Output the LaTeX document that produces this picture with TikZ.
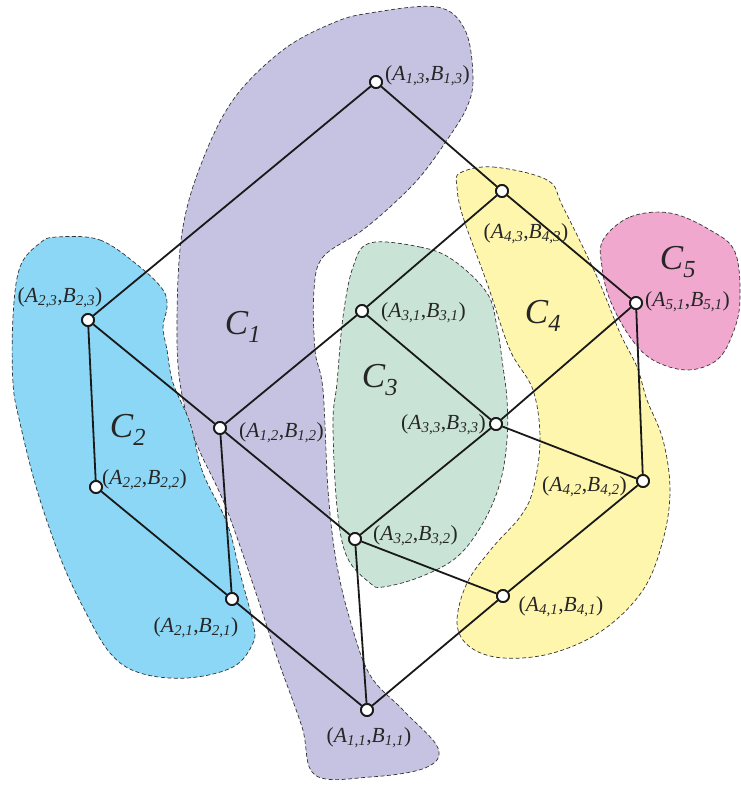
\documentclass[tikz,border=0pt]{standalone}
\usepackage{fontspec}
\setmainfont{Liberation Serif}
\definecolor{cone}{RGB}{197,195,225}
\definecolor{ctwo}{RGB}{139,215,245}
\definecolor{cthree}{RGB}{201,228,214}
\definecolor{cfour}{RGB}{255,246,174}
\definecolor{cfive}{RGB}{240,168,206}
\newcommand{\pr}[2]{(\textit{A}\textsubscript{\textit{#1}},\textit{B}\textsubscript{\textit{#2}})}
\newcommand{\cl}[1]{\textit{C}\textsubscript{\textit{#1}}}
\begin{document}
\begin{tikzpicture}[x=1pt,y=-1pt,
  blob/.style={draw=black!80,line width=0.7pt,dash pattern=on 4pt off 2.5pt},
  vert/.style={circle,draw=black!90,fill=white,line width=1.8pt,minimum size=12pt,inner sep=0pt},
  edge/.style={draw=black!90,line width=1.8pt},
  lab/.style={font=\fontsize{21.5}{24}\selectfont,text=black!85,inner sep=0pt},
  clab/.style={font=\fontsize{35}{40}\selectfont,text=black!85,inner sep=0pt}]
\useasboundingbox (0,0) rectangle (740,787);
% C1
\draw[blob,fill=cone] plot[smooth cycle,tension=0.6] coordinates {
(370,13) (437,7) (465,30) (473,77) (467,107) (447,140) (420,177) (390,207)
(360,232) (323,257) (314,290) (315,350) (323,390) (328,490) (336,560)
(350,620) (370,675) (403,710) (438,748) (425,768) (370,777) (315,775)
(302,727) (277,657) (255,590) (225,505) (195,440) (180,383) (177,317)
(182,233) (200,167) (233,100) (283,50) (333,23)};
% C2
\draw[blob,fill=ctwo] plot[smooth cycle,tension=0.6] coordinates {
(57,237) (100,240) (140,267) (163,290) (167,307) (163,327) (167,350)
(173,383) (190,423) (203,473) (227,523) (240,573) (253,623) (253,643)
(233,667) (187,678) (140,673) (110,653) (83,607) (60,557) (37,490)
(20,423) (13,383) (13,317) (20,267) (40,243)};
% C3
\draw[blob,fill=cthree] plot[smooth cycle,tension=0.6] coordinates {
(370,243) (420,247) (453,260) (487,293) (497,327) (503,367) (507,400)
(507,440) (500,483) (483,523) (457,557) (420,577) (383,587) (370,583)
(347,557) (337,507) (333,423) (337,383) (343,317) (353,267)};
% C4
\draw[blob,fill=cfour] plot[smooth cycle,tension=0.6] coordinates {
(460,173) (493,167) (547,180) (563,207) (597,277) (620,333) (637,367)
(647,400) (663,440) (670,490) (663,540) (643,590) (603,630) (553,653)
(503,658) (470,647) (457,623) (467,583) (493,547) (520,517) (533,490)
(540,440) (533,390) (510,350) (487,283) (463,217) (457,187)};
% C5
\draw[blob,fill=cfive] plot[smooth cycle,tension=0.6] coordinates {
(603,240) (630,217) (670,213) (710,230) (735,252) (740,300) (733,333)
(717,360) (687,370) (653,360) (630,337) (610,300) (602,267)};
% vertices
\node[vert] (n13) at (376,82) {};
\node[vert] (n43) at (502,191) {};
\node[vert] (n23) at (88,320) {};
\node[vert] (n31) at (362,311) {};
\node[vert] (n51) at (636,303) {};
\node[vert] (n12) at (220,428) {};
\node[vert] (n33) at (496,424) {};
\node[vert] (n22) at (96,487) {};
\node[vert] (n42) at (643,481) {};
\node[vert] (n32) at (355,539) {};
\node[vert] (n21) at (232,599) {};
\node[vert] (n41) at (503,596) {};
\node[vert] (n11) at (367,710) {};
% edges
\path[edge] (n13)--(n23) (n13)--(n43) (n43)--(n51) (n43)--(n31)
 (n23)--(n22) (n23)--(n12) (n31)--(n12) (n31)--(n33) (n51)--(n33)
 (n51)--(n42) (n12)--(n32) (n12)--(n21) (n33)--(n32) (n33)--(n42)
 (n22)--(n21) (n21)--(n11) (n32)--(n41) (n32)--(n11) (n42)--(n41)
 (n41)--(n11);
% redraw vertices on top
\foreach \n in {n13,n43,n23,n31,n51,n12,n33,n22,n42,n32,n21,n41,n11}
  \node[vert] at (\n) {};
% labels
\node[lab,anchor=west] (l13) at (385,76) {\pr{1,3}{1,3}};
\node[lab] (l43) at (526,234) {\pr{4,3}{4,3}};
\node[lab] (l23) at (60,298) {\pr{2,3}{2,3}};
\node[lab,anchor=west] (l31) at (381,313) {\pr{3,1}{3,1}};
\node[lab,anchor=west] (l51) at (645,302) {\pr{5,1}{5,1}};
\node[lab,anchor=west] (l12) at (239,433) {\pr{1,2}{1,2}};
\node[lab,anchor=east] (l33) at (486,425) {\pr{3,3}{3,3}};
\node[lab,anchor=west] (l22) at (102,480) {\pr{2,2}{2,2}};
\node[lab,anchor=east] (l42) at (627,487) {\pr{4,2}{4,2}};
\node[lab,anchor=west] (l32) at (373,536) {\pr{3,2}{3,2}};
\node[lab] (l21) at (196,628) {\pr{2,1}{2,1}};
\node[lab] (l41) at (561,607) {\pr{4,1}{4,1}};
\node[lab] (l11) at (369,738) {\pr{1,1}{1,1}};
\node[clab] (c1) at (243,327) {\cl{1}};
\node[clab] (c2) at (128,430) {\cl{2}};
\node[clab] (c3) at (380,380) {\cl{3}};
\node[clab] (c4) at (543,316) {\cl{4}};
\node[clab] (c5) at (678,262) {\cl{5}};
\end{tikzpicture}
\end{document}
